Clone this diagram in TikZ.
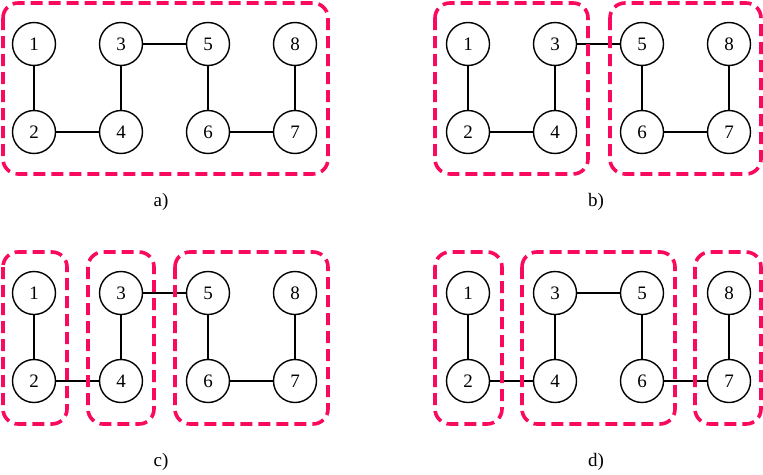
\documentclass[tikz,border=0pt]{standalone}
\usepackage{fontspec}
\setmainfont{Liberation Serif}
\definecolor{groupred}{RGB}{250,10,95}
\tikzset{
  vertex/.style={draw, circle, minimum size=43pt, inner sep=0pt, line width=1.4pt, font=\fontsize{19}{22}\selectfont},
  edge/.style={line width=1.4pt},
  group/.style={draw=groupred, line width=3.6pt, dash pattern=on 12pt off 6pt, rounded corners=15pt},
  caption/.style={font=\fontsize{19}{22}\selectfont}
}
\begin{document}
\begin{tikzpicture}[x=1pt, y=-1pt]
\useasboundingbox (0,0) rectangle (763,474);

% a)
\node[vertex] (a1) at (34,44) {1};
\node[vertex] (a2) at (34,132) {2};
\node[vertex] (a3) at (121,44) {3};
\node[vertex] (a4) at (121,132) {4};
\node[vertex] (a5) at (208,44) {5};
\node[vertex] (a6) at (208,132) {6};
\node[vertex] (a8) at (295,44) {8};
\node[vertex] (a7) at (295,132) {7};
\draw[edge] (a1) -- (a2);
\draw[edge] (a2) -- (a4);
\draw[edge] (a4) -- (a3);
\draw[edge] (a3) -- (a5);
\draw[edge] (a5) -- (a6);
\draw[edge] (a6) -- (a7);
\draw[edge] (a7) -- (a8);
\draw[group] (3,3) rectangle (328,174);
\node[caption] (capa) at (161,202) {a)};

% b)
\node[vertex] (b1) at (468,44) {1};
\node[vertex] (b2) at (468,132) {2};
\node[vertex] (b3) at (555,44) {3};
\node[vertex] (b4) at (555,132) {4};
\node[vertex] (b5) at (642,44) {5};
\node[vertex] (b6) at (642,132) {6};
\node[vertex] (b8) at (729,44) {8};
\node[vertex] (b7) at (729,132) {7};
\draw[edge] (b1) -- (b2);
\draw[edge] (b2) -- (b4);
\draw[edge] (b4) -- (b3);
\draw[edge] (b3) -- (b5);
\draw[edge] (b5) -- (b6);
\draw[edge] (b6) -- (b7);
\draw[edge] (b7) -- (b8);
\draw[group] (435,3) rectangle (588,174);
\draw[group] (610,3) rectangle (761,174);
\node[caption] (capb) at (596,202) {b)};

% c)
\node[vertex] (c1) at (34,293) {1};
\node[vertex] (c2) at (34,381) {2};
\node[vertex] (c3) at (121,293) {3};
\node[vertex] (c4) at (121,381) {4};
\node[vertex] (c5) at (208,293) {5};
\node[vertex] (c6) at (208,381) {6};
\node[vertex] (c8) at (295,293) {8};
\node[vertex] (c7) at (295,381) {7};
\draw[edge] (c1) -- (c2);
\draw[edge] (c2) -- (c4);
\draw[edge] (c4) -- (c3);
\draw[edge] (c3) -- (c5);
\draw[edge] (c5) -- (c6);
\draw[edge] (c6) -- (c7);
\draw[edge] (c7) -- (c8);
\draw[group] (3,252) rectangle (67,424);
\draw[group] (88,252) rectangle (154,424);
\draw[group] (175,252) rectangle (328,424);
\node[caption] (capc) at (161,462) {c)};

% d)
\node[vertex] (d1) at (468,293) {1};
\node[vertex] (d2) at (468,381) {2};
\node[vertex] (d3) at (555,293) {3};
\node[vertex] (d4) at (555,381) {4};
\node[vertex] (d5) at (642,293) {5};
\node[vertex] (d6) at (642,381) {6};
\node[vertex] (d8) at (729,293) {8};
\node[vertex] (d7) at (729,381) {7};
\draw[edge] (d1) -- (d2);
\draw[edge] (d2) -- (d4);
\draw[edge] (d4) -- (d3);
\draw[edge] (d3) -- (d5);
\draw[edge] (d5) -- (d6);
\draw[edge] (d6) -- (d7);
\draw[edge] (d7) -- (d8);
\draw[group] (435,252) rectangle (502,424);
\draw[group] (522,252) rectangle (675,424);
\draw[group] (695,252) rectangle (761,424);
\node[caption] (capd) at (596,462) {d)};
\end{tikzpicture}
\end{document}
